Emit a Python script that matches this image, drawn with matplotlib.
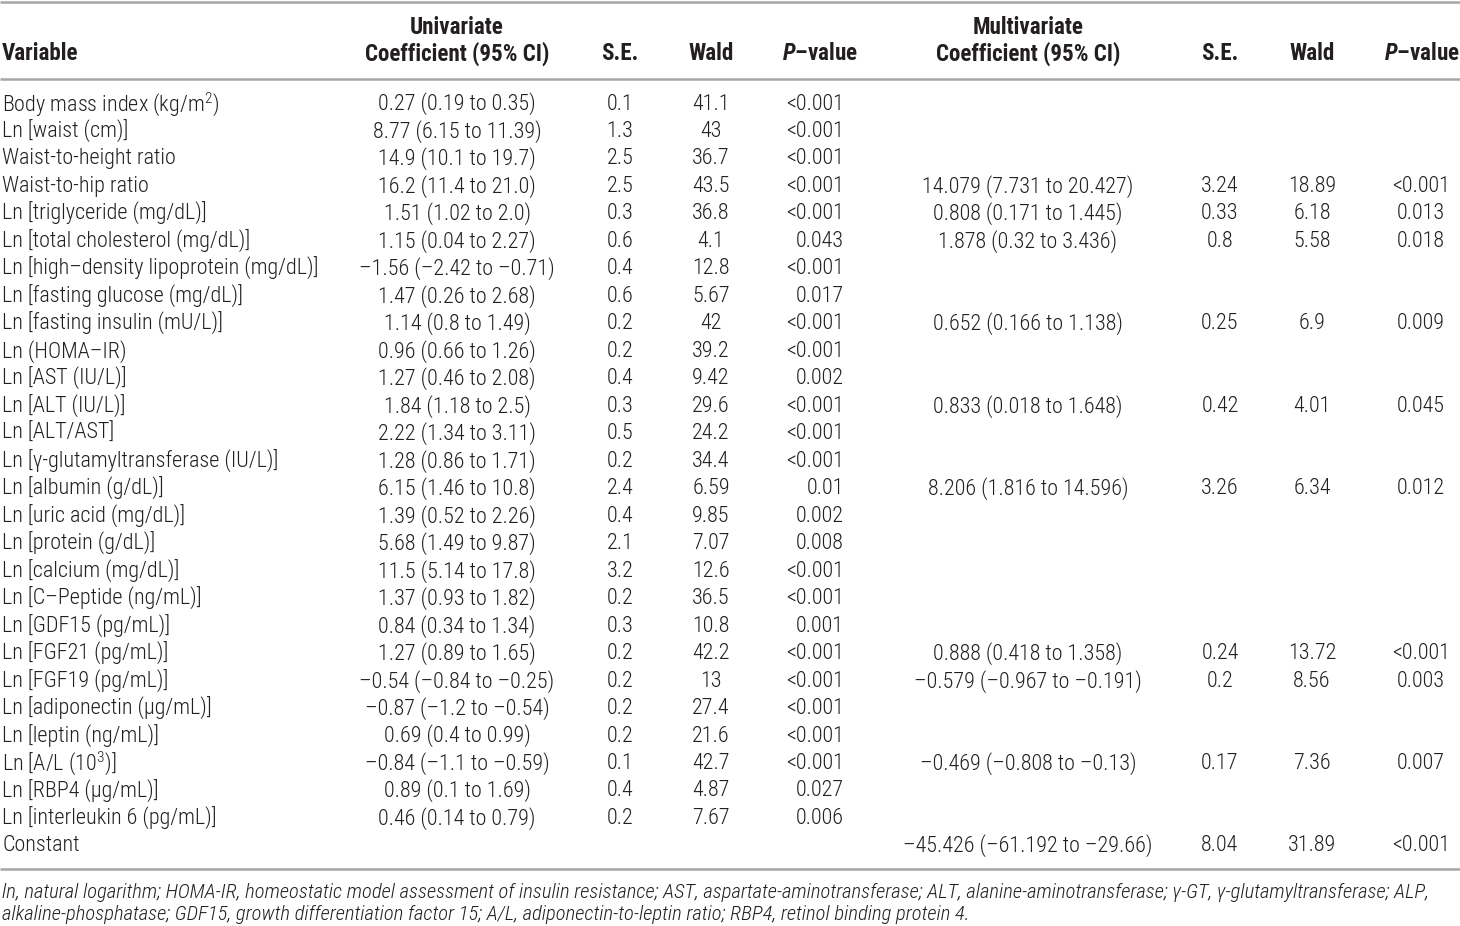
import matplotlib
matplotlib.use("Agg")
import matplotlib.pyplot as plt
from matplotlib import font_manager

# pick a narrow sans if we have one
names = set(f.name for f in font_manager.fontManager.ttflist)
FONT = "Liberation Sans"
for cand in ["Liberation Sans Narrow", "Roboto Condensed", "Liberation Sans"]:
    if cand in names:
        FONT = cand
        break

plt.rcParams['font.family'] = [FONT, 'DejaVu Sans']
plt.rcParams['mathtext.fontset'] = 'custom'
plt.rcParams['mathtext.rm'] = FONT
plt.rcParams['mathtext.it'] = FONT + ':italic'
plt.rcParams['mathtext.bf'] = FONT + ':bold'
plt.rcParams['mathtext.bfit'] = FONT + ':bold:italic'

variables = [
    "Body mass index (kg/m$\\mathregular{^2}$)",
    "Ln [waist (cm)]",
    "Waist-to-height ratio",
    "Waist-to-hip ratio",
    "Ln [triglyceride (mg/dL)]",
    "Ln [total cholesterol (mg/dL)]",
    "Ln [high–density lipoprotein (mg/dL)]",
    "Ln [fasting glucose (mg/dL)]",
    "Ln [fasting insulin (mU/L)]",
    "Ln (HOMA–IR)",
    "Ln [AST (IU/L)]",
    "Ln [ALT (IU/L)]",
    "Ln [ALT/AST]",
    "Ln [γ-glutamyltransferase (IU/L)]",
    "Ln [albumin (g/dL)]",
    "Ln [uric acid (mg/dL)]",
    "Ln [protein (g/dL)]",
    "Ln [calcium (mg/dL)]",
    "Ln [C–Peptide (ng/mL)]",
    "Ln [GDF15 (pg/mL)]",
    "Ln [FGF21 (pg/mL)]",
    "Ln [FGF19 (pg/mL)]",
    "Ln [adiponectin (μg/mL)]",
    "Ln [leptin (ng/mL)]",
    "Ln [A/L (10$\\mathregular{^3}$)]",
    "Ln [RBP4 (μg/mL)]",
    "Ln [interleukin 6 (pg/mL)]",
    "Constant",
]

uni_coef = [
    "0.27 (0.19 to 0.35)", "8.77 (6.15 to 11.39)", "14.9 (10.1 to 19.7)",
    "16.2 (11.4 to 21.0)", "1.51 (1.02 to 2.0)", "1.15 (0.04 to 2.27)",
    "–1.56 (–2.42 to –0.71)", "1.47 (0.26 to 2.68)", "1.14 (0.8 to 1.49)",
    "0.96 (0.66 to 1.26)", "1.27 (0.46 to 2.08)", "1.84 (1.18 to 2.5)",
    "2.22 (1.34 to 3.11)", "1.28 (0.86 to 1.71)", "6.15 (1.46 to 10.8)",
    "1.39 (0.52 to 2.26)", "5.68 (1.49 to 9.87)", "11.5 (5.14 to 17.8)",
    "1.37 (0.93 to 1.82)", "0.84 (0.34 to 1.34)", "1.27 (0.89 to 1.65)",
    "–0.54 (–0.84 to –0.25)", "–0.87 (–1.2 to –0.54)", "0.69 (0.4 to 0.99)",
    "–0.84 (–1.1 to –0.59)", "0.89 (0.1 to 1.69)", "0.46 (0.14 to 0.79)", "",
]
uni_se = ["0.1", "1.3", "2.5", "2.5", "0.3", "0.6", "0.4", "0.6", "0.2", "0.2",
          "0.4", "0.3", "0.5", "0.2", "2.4", "0.4", "2.1", "3.2", "0.2", "0.3",
          "0.2", "0.2", "0.2", "0.2", "0.1", "0.4", "0.2", ""]
uni_wald = ["41.1", "43", "36.7", "43.5", "36.8", "4.1", "12.8", "5.67", "42",
            "39.2", "9.42", "29.6", "24.2", "34.4", "6.59", "9.85", "7.07",
            "12.6", "36.5", "10.8", "42.2", "13", "27.4", "21.6", "42.7",
            "4.87", "7.67", ""]
uni_p = ["<0.001", "<0.001", "<0.001", "<0.001", "<0.001", "0.043", "<0.001",
         "0.017", "<0.001", "<0.001", "0.002", "<0.001", "<0.001", "<0.001",
         "0.01", "0.002", "0.008", "<0.001", "<0.001", "0.001", "<0.001",
         "<0.001", "<0.001", "<0.001", "<0.001", "0.027", "0.006", ""]

# multivariate results, keyed by row index
multi_rows = [3, 4, 5, 8, 11, 14, 20, 21, 24, 27]
multi_coef = ["14.079 (7.731 to 20.427)", "0.808 (0.171 to 1.445)",
              "1.878 (0.32 to 3.436)", "0.652 (0.166 to 1.138)",
              "0.833 (0.018 to 1.648)", "8.206 (1.816 to 14.596)",
              "0.888 (0.418 to 1.358)", "–0.579 (–0.967 to –0.191)",
              "–0.469 (–0.808 to –0.13)", "–45.426 (–61.192 to –29.66)"]
multi_se = ["3.24", "0.33", "0.8", "0.25", "0.42", "3.26", "0.24", "0.2", "0.17", "8.04"]
multi_wald = ["18.89", "6.18", "5.58", "6.9", "4.01", "6.34", "13.72", "8.56", "7.36", "31.89"]
multi_p = ["<0.001", "0.013", "0.018", "0.009", "0.045", "0.012", "<0.001", "0.003", "0.007", "<0.001"]

footnote1 = ("ln, natural logarithm; HOMA-IR, homeostatic model assessment of insulin resistance; "
             "AST, aspartate-aminotransferase; ALT, alanine-aminotransferase; γ-GT, γ-glutamyltransferase; ALP,")
footnote2 = ("alkaline-phosphatase; GDF15, growth differentiation factor 15; A/L, adiponectin-to-leptin ratio; "
             "RBP4, retinol binding protein 4.")

W, H = 1460, 926
fig = plt.figure(figsize=(W / 100, H / 100), dpi=100)
ax = fig.add_axes([0, 0, 1, 1])
ax.set_xlim(0, W)
ax.set_ylim(H, 0)
ax.axis('off')

TXT = '#231f20'
FS = 15.9
HFS = 16.6
RULE = '#a6a6a6'

# rules
for yy in (2, 79, 869):
    ax.plot([0, W], [yy, yy], color=RULE, lw=1.8, solid_capstyle='butt')

# header
hdr = dict(fontsize=HFS, fontweight='bold', color=TXT, va='center')
ax.text(2, 54, "Variable", ha='left', **hdr)
ax.text(457, 27, "Univariate", ha='center', **hdr)
ax.text(457, 54, "Coefficient (95% CI)", ha='center', **hdr)
ax.text(620, 54, "S.E.", ha='center', **hdr)
ax.text(711, 54, "Wald", ha='center', **hdr)
ax.text(820, 54, "$\\mathbfit{P}$–value", ha='center', **hdr)
ax.text(1028, 27, "Multivariate", ha='center', **hdr)
ax.text(1028, 54, "Coefficient (95% CI)", ha='center', **hdr)
ax.text(1220, 54, "S.E.", ha='center', **hdr)
ax.text(1312, 54, "Wald", ha='center', **hdr)
ax.text(1422, 54, "$\\mathbfit{P}$–value", ha='center', **hdr)

body = dict(fontsize=FS, color=TXT, va='center', fontweight='light')
y0, dy = 104, 27.48
for i, name in enumerate(variables):
    y = y0 + i * dy
    ax.text(2, y, name, ha='left', **body)
    ax.text(457, y, uni_coef[i], ha='center', **body)
    ax.text(620, y, uni_se[i], ha='center', **body)
    ax.text(711, y, uni_wald[i], ha='center', **body)
    ax.text(844, y, uni_p[i], ha='right', **body)

for k, i in enumerate(multi_rows):
    y = y0 + i * dy
    ax.text(1028, y, multi_coef[k], ha='center', **body)
    ax.text(1220, y, multi_se[k], ha='center', **body)
    ax.text(1312, y, multi_wald[k], ha='center', **body)
    ax.text(1421, y, multi_p[k], ha='center', **body)

foot = dict(ha='left', fontsize=14.9, style='italic', fontweight='light', color=TXT, va='center')
ax.text(2, 892, footnote1, **foot)
ax.text(2, 914, footnote2, **foot)

fig.savefig("out.png", dpi=100, facecolor='white')
